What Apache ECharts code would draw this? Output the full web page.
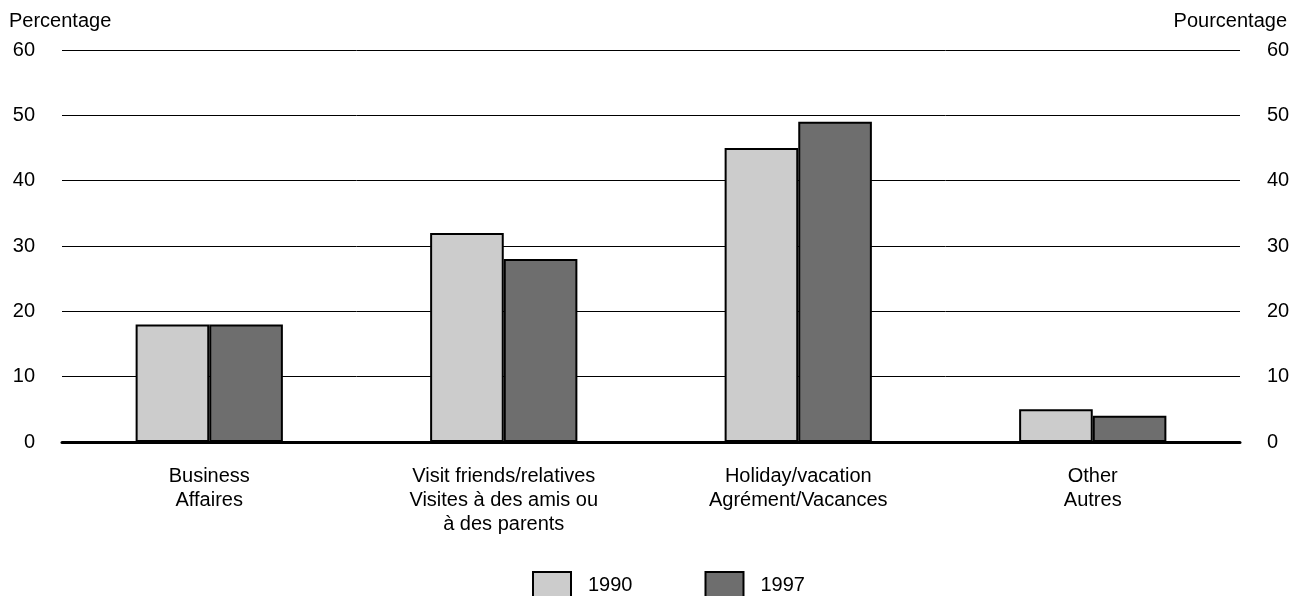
<!DOCTYPE html>
<html><head><meta charset="utf-8">
<script src="https://cdn.jsdelivr.net/npm/echarts@6/dist/echarts.min.js"></script>
<style>html,body{margin:0;padding:0;background:#fff}#c{width:1296px;height:596px}</style>
</head><body><div id="c"></div>
<script>
const categories = ['Business\nAffaires', 'Visit friends/relatives\nVisites à des amis ou\nà des parents', 'Holiday/vacation\nAgrément/Vacances', 'Other\nAutres'];
const values1990 = [18, 32, 45, 5];
const values1997 = [18, 28, 49, 4];
const yTicks = [0, 10, 20, 30, 40, 50, 60];
const font = 'Liberation Sans, Arial, sans-serif';
const FS = 20;
const chart = echarts.init(document.getElementById('c'));
const yAxisBase = {
  type: 'value', min: yTicks[0], max: yTicks[yTicks.length - 1], interval: 10,
  axisLine: { show: false }, axisTick: { show: false },
  splitLine: { show: true, lineStyle: { color: '#000', width: 1 } },
  axisLabel: { color: '#000', fontSize: FS, fontFamily: font, margin: 27, padding: [2, 0, 0, 0] }
};
chart.setOption({
  animation: false,
  grid: { left: 62, right: 56, top: 50, bottom: 154, containLabel: false },
  graphic: [
    { type: 'text', left: 9, top: 11, style: { text: 'Percentage', fill: '#000', font: FS + 'px ' + font } },
    { type: 'text', right: 9, top: 11, style: { text: 'Pourcentage', fill: '#000', font: FS + 'px ' + font } }
  ],
  legend: {
    left: 532, top: 571, padding: 0, itemWidth: 38, itemHeight: 26, itemGap: 72, icon: 'rect',
    textStyle: { color: '#000', fontSize: FS, fontFamily: font, padding: [0, 0, 0, 12] },
    data: ['1990', '1997']
  },
  xAxis: {
    type: 'category', data: categories,
    axisLine: { show: true, lineStyle: { color: '#000', width: 3 } },
    axisTick: { show: false },
    axisLabel: { color: '#000', fontSize: FS, fontFamily: font, lineHeight: 24, margin: 22 }
  },
  yAxis: [
    Object.assign({}, yAxisBase, { position: 'left' }),
    Object.assign({}, yAxisBase, { position: 'right', splitLine: { show: false } })
  ],
  series: [
    { name: '1990', type: 'bar', data: values1990, barWidth: '25%', barGap: '0%',
      itemStyle: { color: '#cccccc', borderColor: '#000', borderWidth: 2 } },
    { name: '1997', type: 'bar', data: values1997, barWidth: '25%', barGap: '0%',
      itemStyle: { color: '#6e6e6e', borderColor: '#000', borderWidth: 2 } }
  ]
});
</script></body></html>
